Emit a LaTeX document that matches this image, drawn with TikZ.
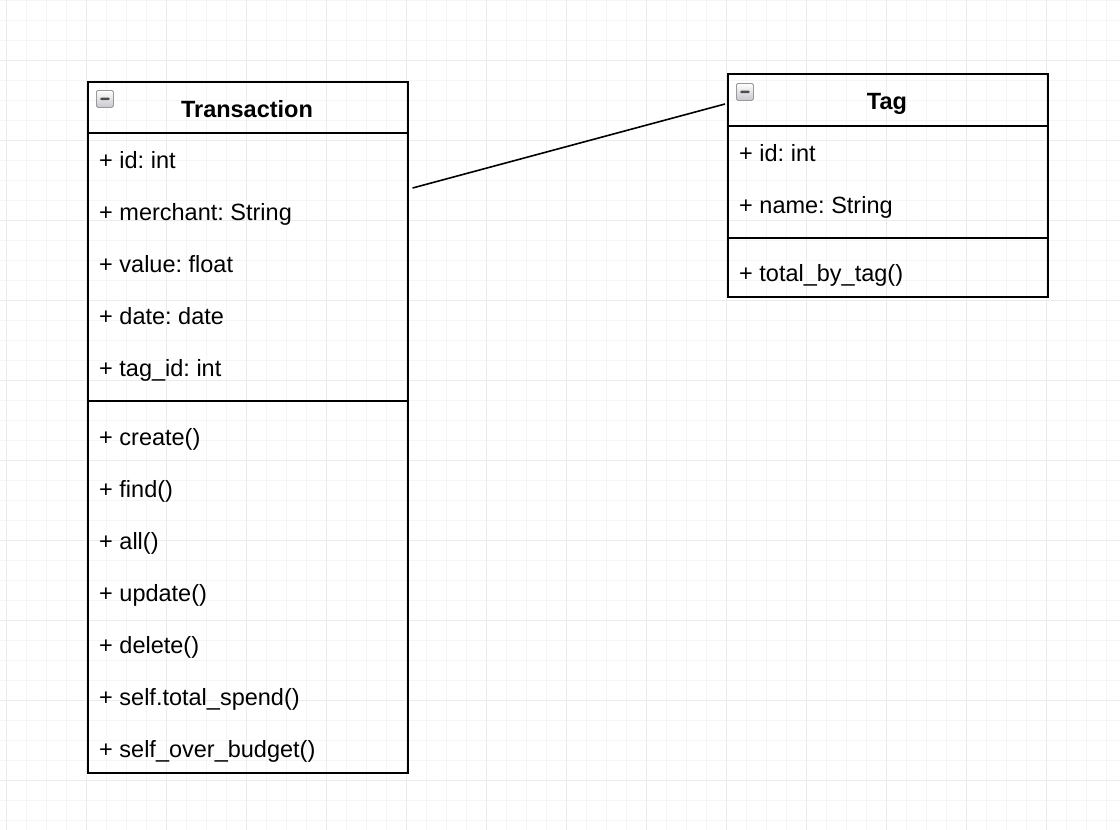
\documentclass[tikz,border=0pt]{standalone}
\usepackage{fontspec}
\setmainfont{Liberation Sans}
\usetikzlibrary{positioning}

\tikzset{
  compartment/.style={draw, line width=1.6pt, anchor=north west, inner sep=0pt, minimum width=320pt},
  member/.style={anchor=base west, inner sep=0pt, font=\fontsize{23.5}{28}\selectfont},
  classname/.style={anchor=base, inner sep=0pt, font=\fontsize{23.5}{28}\selectfont\bfseries},
  collapse/.style={draw=black!40, rounded corners=1.5pt, top color=white, bottom color=blue!10!black!22,
    minimum width=17pt, minimum height=17pt, inner sep=0pt, anchor=north west, line width=0.8pt,
    path picture={\fill[black!70] ([shift={(-5pt,-1.3pt)}]path picture bounding box.center) rectangle ++(10pt,2.6pt);}},
  assoc/.style={line width=1.6pt},
  minorline/.style={black!4, line width=1pt},
  majorline/.style={black!8, line width=1pt}
}

\begin{document}
\frenchspacing
\begin{tikzpicture}[x=1pt,y=-1pt]
  \useasboundingbox[fill=white] (0,0) rectangle (1120,830);
  % grid
  \foreach \x in {6,26,...,1106} \draw[minorline] (\x,0) -- (\x,830);
  \foreach \y in {0,20,...,820} \draw[minorline] (0,\y) -- (1120,\y);
  \foreach \x in {6,86,...,1046} \draw[majorline] (\x,0) -- (\x,830);
  \foreach \y in {60,140,...,780} \draw[majorline] (0,\y) -- (1120,\y);

  % Transaction
  \node[compartment, minimum height=51pt] (tHead) at (87,81) {};
  \node[compartment, minimum height=268pt] (tAttr) at (87,132) {};
  \node[compartment, minimum height=372pt] (tMeth) at (87,400) {};
  \node[collapse] (tIcon) at (96,90) {};
  \node[classname] (tName) at (247,117) {Transaction};
  \foreach \m [count=\i] in {+ id: int, + merchant: String, + value: float, + date: date, + tag\_id: int}
    \node[member] (ta\i) at (99,116+52*\i) {\m};
  \foreach \m [count=\i] in {+ create(), + find(), + all(), + update(), + delete(),
      + self.total\_spend(), + self\_over\_budget()}
    \node[member] (tm\i) at (99,393+52*\i) {\m};

  % Tag
  \node[compartment, minimum height=52pt] (gHead) at (727,73) {};
  \node[compartment, minimum height=112pt] (gAttr) at (727,125) {};
  \node[compartment, minimum height=59pt] (gMeth) at (727,237) {};
  \node[collapse] (gIcon) at (736,83) {};
  \node[classname] (gName) at (887,109) {Tag};
  \foreach \m [count=\i] in {+ id: int, + name: String}
    \node[member] (ga\i) at (739,109+52*\i) {\m};
  \node[member] (gm1) at (739,281) {+ total\_by\_tag()};

  % association
  \draw[assoc] ([shift={(4,56)}]tAttr.north east) -- ([shift={(-2,31)}]gHead.north west);
\end{tikzpicture}
\end{document}
